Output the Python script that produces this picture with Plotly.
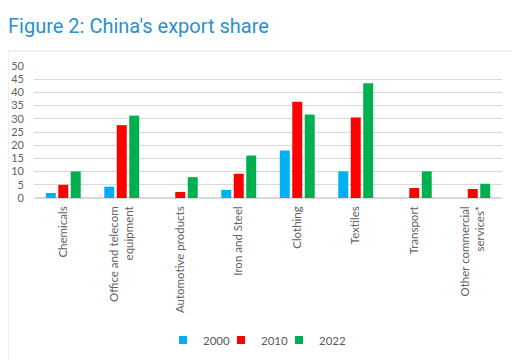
import plotly.graph_objects as go

categories = ["Chemicals", "Office and telecom<br>equipment", "Automotive products",
              "Iron and Steel", "Clothing", "Textiles", "Transport",
              "Other commercial<br>services*"]
years = ["2000", "2010", "2022"]
v2000 = [1.9, 4.3, None, 3.1, 18.0, 10.1, None, None]
v2010 = [5.0, 27.6, 2.3, 9.2, 36.5, 30.5, 3.8, 3.4]
v2022 = [10.1, 31.2, 7.9, 16.1, 31.6, 43.5, 10.1, 5.4]
colors = ["#00b0f0", "#ff0000", "#00b050"]
yticks = list(range(0, 55, 5))

# page body adds an 8px offset, so the figure is drawn 8px smaller
OFF = 8
W, H = 519 - OFF, 360 - OFF
L, R, T, B = 34 - OFF, 17, 66 - OFF, 162

fig = go.Figure()
for name, vals, c in zip(years, [v2000, v2010, v2022], colors):
    fig.add_trace(go.Bar(x=categories, y=vals, name=name, marker_color=c,
                         marker_line_width=0, showlegend=False))

pw = W - L - R
ph = H - T - B
def px_x(x):
    return (x - OFF - L) / pw
def px_y(y):
    return (H - B - (y - OFF)) / ph

legend_names = ["legend", "legend2", "legend3"]
legend_x = [163, 221, 279]
legends = {}
for name, c, lg, lx in zip(years, colors, legend_names, legend_x):
    fig.add_trace(go.Scatter(x=[None], y=[None], mode="markers", name=name, legend=lg,
                             marker=dict(symbol="square", size=8, color=c)))
    legends[lg] = dict(orientation="h", x=px_x(lx), xanchor="left", y=px_y(340),
                       yanchor="middle", font=dict(size=11.5, color="#595959"),
                       itemwidth=30, bgcolor="rgba(0,0,0,0)", borderwidth=0)

fig.add_shape(type="rect", xref="paper", yref="paper",
              x0=px_x(8), x1=px_x(513), y0=px_y(400), y1=px_y(51),
              line=dict(color="#e4e4e4", width=1), layer="below")

fig.update_layout(
    width=W, height=H,
    margin=dict(l=L, r=R, t=T, b=B, pad=0, autoexpand=False),
    paper_bgcolor="white", plot_bgcolor="white",
    barmode="group", bargap=0.36, bargroupgap=0.2,
    font=dict(family="Lato", size=11.5, color="#595959"),
    title=dict(text="Figure 2: China's export share", xref="container", yref="container",
               x=0, y=1 - 17.5 / H, xanchor="left", yanchor="middle",
               pad=dict(l=0, r=0, t=0, b=0),
               font=dict(family="Roboto", size=20, color="#2a8fd3")),
    xaxis=dict(showgrid=False, showline=False, ticks="", tickangle=-90, automargin=False,
               ticklabelstandoff=5, tickfont=dict(size=11.5, color="#626262")),
    yaxis=dict(range=[0, 50], tickvals=yticks, showgrid=True, gridcolor="#d9d9d9",
               gridwidth=1, zeroline=True, zerolinecolor="#d9d9d9", showline=False,
               automargin=False, ticks="", ticklabelstandoff=9,
               tickfont=dict(size=11, color="#626262")),
    **legends,
)
fig.write_html("out.html")
